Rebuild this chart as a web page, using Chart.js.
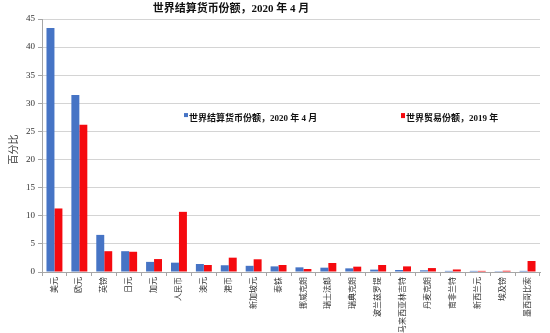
<!DOCTYPE html>
<html>
<head>
<meta charset="utf-8">
<script src="https://cdn.jsdelivr.net/npm/chart.js@4"></script>
<style>
  body { margin: 0; background: #fff; }
  canvas { display: block; }
</style>
</head>
<body>
<canvas id="shareChart" width="550" height="333"></canvas>
<script>
let currencies = ['美元', '欧元', '英镑', '日元', '加元', '人民币', '澳元', '港币', '新加坡元', '泰铢',
    '挪威克朗', '瑞士法郎', '瑞典克朗', '波兰兹罗提', '马来西亚林吉特', '丹麦克朗', '南非兰特', '新西兰元', '埃及镑', '墨西哥比索'];
let settlementShare = [43.4, 31.5, 6.6, 3.7, 1.8, 1.66, 1.42, 1.2, 1.1, 1.0,
    0.83, 0.77, 0.65, 0.42, 0.36, 0.3, 0.2, 0.2, 0.15, 0.2];
let tradeShare = [11.3, 26.2, 3.7, 3.6, 2.3, 10.7, 1.25, 2.55, 2.26, 1.25,
    0.53, 1.6, 0.95, 1.25, 1.0, 0.7, 0.45, 0.2, 0.22, 1.96];
let yTicks = [0, 5, 10, 15, 20, 25, 30, 35, 40, 45];

let chartTitle = '世界结算货币份额，2020 年 4 月';
let settlementLabel = '世界结算货币份额，2020 年 4 月';
let tradeLabel = '世界贸易份额，2019 年';
let yTitle = '百分比';

let blue = '#4674C5';
let red = '#F50A0F';
let serif = "'Liberation Serif', 'Noto Sans CJK SC', serif";

// title, legend and axis title are drawn by hand so they sit where the original has them
let extraText = {
    id: 'extraText',
    afterDraw(chart) {
        let ctx = chart.ctx;
        let area = chart.chartArea;
        ctx.save();
        ctx.fillStyle = '#111';
        ctx.textBaseline = 'middle';

        ctx.font = 'bold 11px ' + serif;
        ctx.textAlign = 'center';
        ctx.fillText(chartTitle, area.left + 189, 9);

        let legendY = chart.scales.y.getPixelForValue(27.2);
        ctx.font = 'bold 9px ' + serif;
        ctx.textAlign = 'left';
        ctx.fillStyle = blue;
        ctx.fillRect(area.left + 142, legendY - 6, 4, 4);
        ctx.fillStyle = '#111';
        ctx.fillText(settlementLabel, area.left + 147, legendY);
        ctx.fillStyle = red;
        ctx.fillRect(area.left + 359, legendY - 6, 4, 5);
        ctx.fillStyle = '#111';
        ctx.fillText(tradeLabel, area.left + 364, legendY);

        ctx.translate(14, (area.top + area.bottom) / 2 + 4);
        ctx.rotate(-Math.PI / 2);
        ctx.textAlign = 'center';
        ctx.font = '10px ' + serif;
        ctx.fillStyle = '#333';
        ctx.fillText(yTitle, 0, 0);
        ctx.restore();
    }
};

new Chart(document.getElementById('shareChart'), {
    type: 'bar',
    data: {
        labels: currencies,
        datasets: [{
            label: settlementLabel,
            data: settlementShare,
            backgroundColor: blue,
            borderWidth: 0
        }, {
            label: tradeLabel,
            data: tradeShare,
            backgroundColor: red,
            borderWidth: 0
        }]
    },
    options: {
        responsive: false,
        animation: false,
        categoryPercentage: 0.64,
        barPercentage: 1.0,
        layout: {
            padding: { top: 19, right: 10, left: 0, bottom: 0 }
        },
        scales: {
            x: {
                afterFit(scale) { scale.height = 61; },
                grid: {
                    display: true,
                    drawOnChartArea: false,
                    offset: true,
                    tickLength: 4,
                    color: '#a6a6a6'
                },
                border: { color: '#a6a6a6' },
                ticks: {
                    autoSkip: false,
                    maxRotation: 90,
                    minRotation: 90,
                    padding: 1,
                    color: '#333',
                    font: { size: 8, family: serif }
                }
            },
            y: {
                min: 0,
                max: 45,
                afterFit(scale) { scale.width = 42; },
                afterBuildTicks(scale) {
                    scale.ticks = yTicks.map(v => ({ value: v }));
                },
                grid: {
                    color: '#d4d4d4',
                    tickColor: '#a6a6a6',
                    tickLength: 4
                },
                border: { color: '#a6a6a6' },
                ticks: {
                    padding: 3,
                    color: '#333',
                    font: { size: 9, family: serif }
                }
            }
        },
        plugins: {
            legend: { display: false },
            title: { display: false },
            tooltip: { enabled: false }
        }
    },
    plugins: [extraText]
});
</script>
</body>
</html>
